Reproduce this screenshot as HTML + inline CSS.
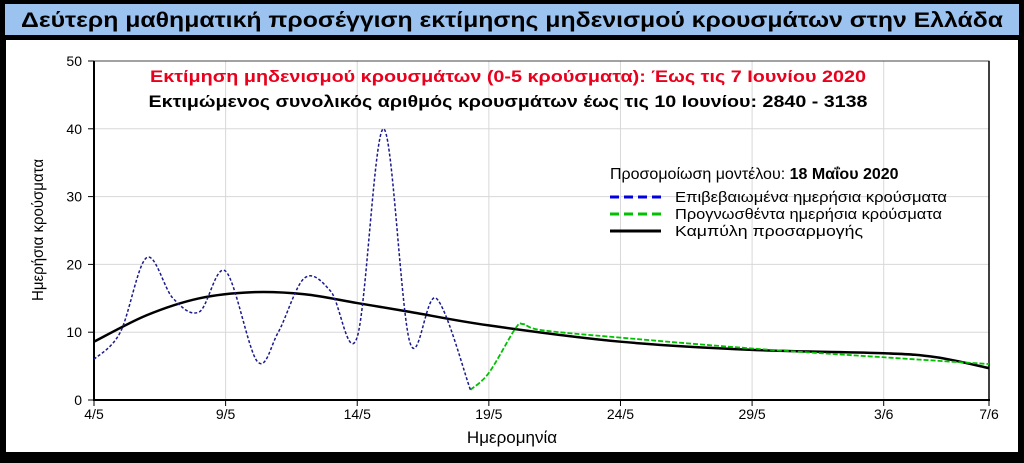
<!DOCTYPE html>
<html><head><meta charset="utf-8"><style>
body{margin:0;background:#000;width:1024px;height:458px;overflow:hidden;font-family:"Liberation Sans",sans-serif}
</style></head><body>
<svg id="s" width="1024" height="458" xmlns="http://www.w3.org/2000/svg" font-family="Liberation Sans, sans-serif">
<rect x="0" y="0" width="1024" height="458" fill="#000"/>
<rect x="5" y="4" width="1014" height="31" fill="#9cc3f0"/>
<text x="512" y="27" text-anchor="middle" font-size="21" font-weight="bold" fill="#000" textLength="982" lengthAdjust="spacingAndGlyphs">Δεύτερη μαθηματική προσέγγιση εκτίμησης μηδενισμού κρουσμάτων στην Ελλάδα</text>
<rect x="6" y="40" width="1012" height="412" fill="#fff"/>
<g id="grid" stroke="#d8d8d8" stroke-width="1"></g>
<rect x="94" y="61" width="895" height="339" fill="none" stroke="#444" stroke-width="1"/>
<line x1="94" y1="61" x2="94" y2="401" stroke="#000" stroke-width="2"/>
<line x1="93" y1="400" x2="990" y2="400" stroke="#000" stroke-width="2"/>
<line x1="989" y1="61" x2="989" y2="401" stroke="#000" stroke-width="1.5"/>
<g id="ticks" font-size="14" fill="#000"></g>
<text transform="translate(43,230) rotate(-90)" text-anchor="middle" font-size="16" textLength="142" lengthAdjust="spacingAndGlyphs">Ημερήσια κρούσματα</text>
<text x="512" y="443" text-anchor="middle" font-size="17">Ημερομηνία</text>
<text x="508" y="82" text-anchor="middle" font-size="17" font-weight="bold" fill="#e8001c" textLength="716" lengthAdjust="spacingAndGlyphs">Εκτίμηση μηδενισμού κρουσμάτων (0-5 κρούσματα):  Έως τις 7 Ιουνίου 2020</text>
<text x="508" y="107" text-anchor="middle" font-size="17" font-weight="bold" fill="#000" textLength="719" lengthAdjust="spacingAndGlyphs">Εκτιμώμενος συνολικός αριθμός κρουσμάτων έως τις 10 Ιουνίου:  2840 - 3138</text>
<text x="610" y="179" font-size="16">Προσομοίωση μοντέλου: <tspan font-weight="bold">18 Μαΐου 2020</tspan></text>
<line x1="610" y1="197" x2="661" y2="197" stroke="#0000e0" stroke-width="3" stroke-dasharray="9,5"/>
<line x1="610" y1="214" x2="661" y2="214" stroke="#00c000" stroke-width="3" stroke-dasharray="9,5"/>
<line x1="610" y1="231" x2="661" y2="231" stroke="#000" stroke-width="3"/>
<text x="675" y="202" font-size="15" textLength="272" lengthAdjust="spacingAndGlyphs">Επιβεβαιωμένα ημερήσια κρούσματα</text>
<text x="675" y="219" font-size="15" textLength="267" lengthAdjust="spacingAndGlyphs">Προγνωσθέντα ημερήσια κρούσματα</text>
<text x="675" y="236" font-size="15" textLength="188" lengthAdjust="spacingAndGlyphs">Καμπύλη προσαρμογής</text>
<path id="fit" fill="none" stroke="#000" stroke-width="2.5"/>
<path id="green" fill="none" stroke="#00c000" stroke-width="1.8" stroke-dasharray="5,2"/>
<path id="blue" fill="none" stroke="#1a1a8c" stroke-width="1.5" stroke-dasharray="3,2"/>
</svg>
<script>
var X0=94,DX=(989-94)/34,Y0=400,DY=6.78;
function px(d){return X0+d*DX}function py(v){return Y0-v*DY}
var g=document.getElementById('grid'),t=document.getElementById('ticks'),ns='http://www.w3.org/2000/svg';
function el(p,n,a,tx){var e=document.createElementNS(ns,n);for(var k in a)e.setAttribute(k,a[k]);if(tx)e.textContent=tx;p.appendChild(e);return e}
[10,20,30,40].forEach(function(v){el(g,'line',{x1:94,x2:989,y1:py(v),y2:py(v)})});
[5,10,15,20,25,30].forEach(function(d){el(g,'line',{x1:px(d),x2:px(d),y1:61,y2:400})});
[0,10,20,30,40,50].forEach(function(v){el(t,'line',{x1:88,x2:94,y1:py(v),y2:py(v),stroke:'#000'});el(t,'text',{x:82,y:py(v)+5,'text-anchor':'end'},''+v)});
[[0,'4/5'],[5,'9/5'],[10,'14/5'],[15,'19/5'],[20,'24/5'],[25,'29/5'],[30,'3/6'],[34,'7/6']].forEach(function(a){el(t,'line',{x1:px(a[0]),x2:px(a[0]),y1:400,y2:406,stroke:'#000'});el(t,'text',{x:px(a[0]),y:419,'text-anchor':'middle'},a[1])});
function cr(pts){var s='M'+pts[0][0]+','+pts[0][1];for(var i=0;i<pts.length-1;i++){var p0=pts[i-1]||pts[i],p1=pts[i],p2=pts[i+1],p3=pts[i+2]||p2;
s+='C'+(p1[0]+(p2[0]-p0[0])/6)+','+(p1[1]+(p2[1]-p0[1])/6)+' '+(p2[0]-(p3[0]-p1[0])/6)+','+(p2[1]-(p3[1]-p1[1])/6)+' '+p2[0]+','+p2[1]}return s}
function P(a){return a.map(function(q){return [px(q[0]),py(q[1])]})}
var blue=[[0,6],[1,10],[2,21],[3,15],[4,13],[5,19],[6.2,5.7],[7,10],[8,18],[9,16],[10,9.3],[11,40],[12,8.5],[13,15],[14.3,1.5]];
var green=[[14.3,1.5],[15,4],[16,10.5],[16.3,11.2],[17,10.3],[20,9.2],[25,7.6],[30,6.3],[34,5.3]];
var fit=[[0,8.6],[2,12.5],[4,15],[6,15.9],[8,15.6],[10,14.3],[12,13],[15,11],[20,8.6],[25,7.4],[30,6.9],[32,6.3],[34,4.7]];
document.getElementById('blue').setAttribute('d',cr(P(blue)));
document.getElementById('green').setAttribute('d',cr(P(green)));
document.getElementById('fit').setAttribute('d',cr(P(fit)));
</script>
</body></html>
